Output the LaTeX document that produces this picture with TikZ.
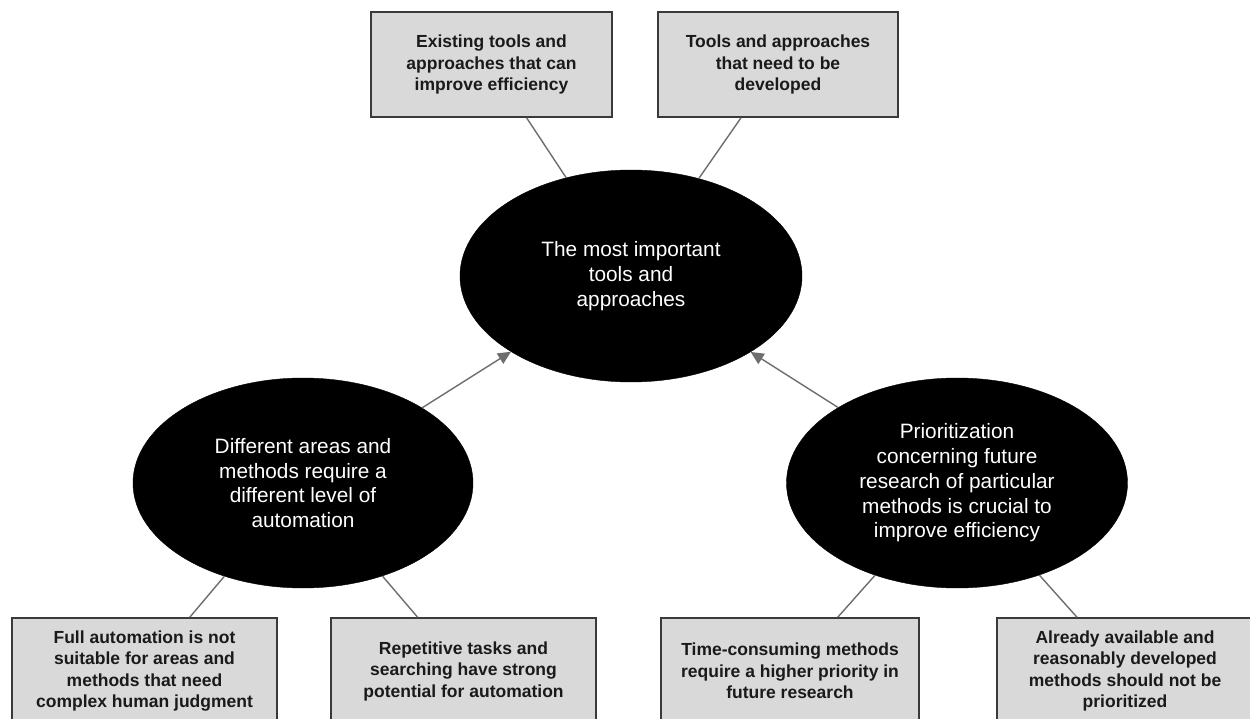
\documentclass[tikz,border=0pt]{standalone}
\usepackage{fontspec}
\setmainfont{Liberation Sans}
\usetikzlibrary{shapes.geometric,arrows.meta}
\definecolor{boxfill}{HTML}{D9D9D9}
\definecolor{boxline}{HTML}{3A3A3A}
\definecolor{connline}{HTML}{6E6E6E}
\definecolor{boxtext}{HTML}{1A1A1A}
\tikzset{
  infobox/.style={rectangle, draw=boxline, line width=1.5pt, fill=boxfill, inner sep=0pt,
    align=center, text=boxtext, font=\fontsize{17.5}{21.5}\selectfont\bfseries},
  topic/.style={ellipse, fill=black, draw=black, inner sep=0pt, align=center, text=white,
    font=\fontsize{20.8}{24.8}\selectfont},
  conn/.style={draw=connline, line width=1.4pt},
  feed/.style={conn, -{Triangle[length=13pt,width=12pt,fill=connline]}}
}
\begin{document}
\begin{tikzpicture}[x=1pt,y=-1pt]
\useasboundingbox (0,0) rectangle (1250,719);
\clip (0,0) rectangle (1250,719);
\fill[white] (0,0) rectangle (1250,719);

% ellipses
\node[topic, minimum width=342pt, minimum height=212pt] (C) at (631,276)
  {The most important\\tools and\\approaches};
\node[topic, minimum width=340pt, minimum height=210pt] (L) at (303,483)
  {Different areas and\\methods require a\\different level of\\automation};
\node[topic, minimum width=341pt, minimum height=210pt] (R) at (957,483)
  {Prioritization\\concerning future\\research of particular\\methods is crucial to\\improve efficiency};

% top boxes
\node[infobox, minimum width=241pt, minimum height=105pt] (t1) at (491.5,64.5)
  {Existing tools and\\approaches that can\\improve efficiency};
\node[infobox, minimum width=240pt, minimum height=105pt] (t2) at (778,64.5)
  {Tools and approaches\\that need to be\\developed};

% bottom boxes
\node[infobox, minimum width=265pt, minimum height=106pt] (b1) at (144.5,671)
  {Full automation is not\\suitable for areas and\\methods that need\\complex human judgment};
\node[infobox, minimum width=265pt, minimum height=106pt] (b2) at (463.5,671)
  {Repetitive tasks and\\searching have strong\\potential for automation};
\node[infobox, minimum width=258pt, minimum height=106pt] (b3) at (790,671)
  {Time-consuming methods\\require a higher priority in\\future research};
\node[infobox, minimum width=256pt, minimum height=106pt] (b4) at (1125,671)
  {Already available and\\reasonably developed\\methods should not be\\prioritized};

% connectors
\draw[conn] (t1) -- (C);
\draw[conn] (t2) -- (C);
\draw[conn] (b1) -- (L);
\draw[conn] (b2) -- (L);
\draw[conn] (b3) -- (R);
\draw[conn] (b4) -- (R);
\draw[feed] (L) -- (C);
\draw[feed] (R) -- (C);
\end{tikzpicture}
\end{document}
